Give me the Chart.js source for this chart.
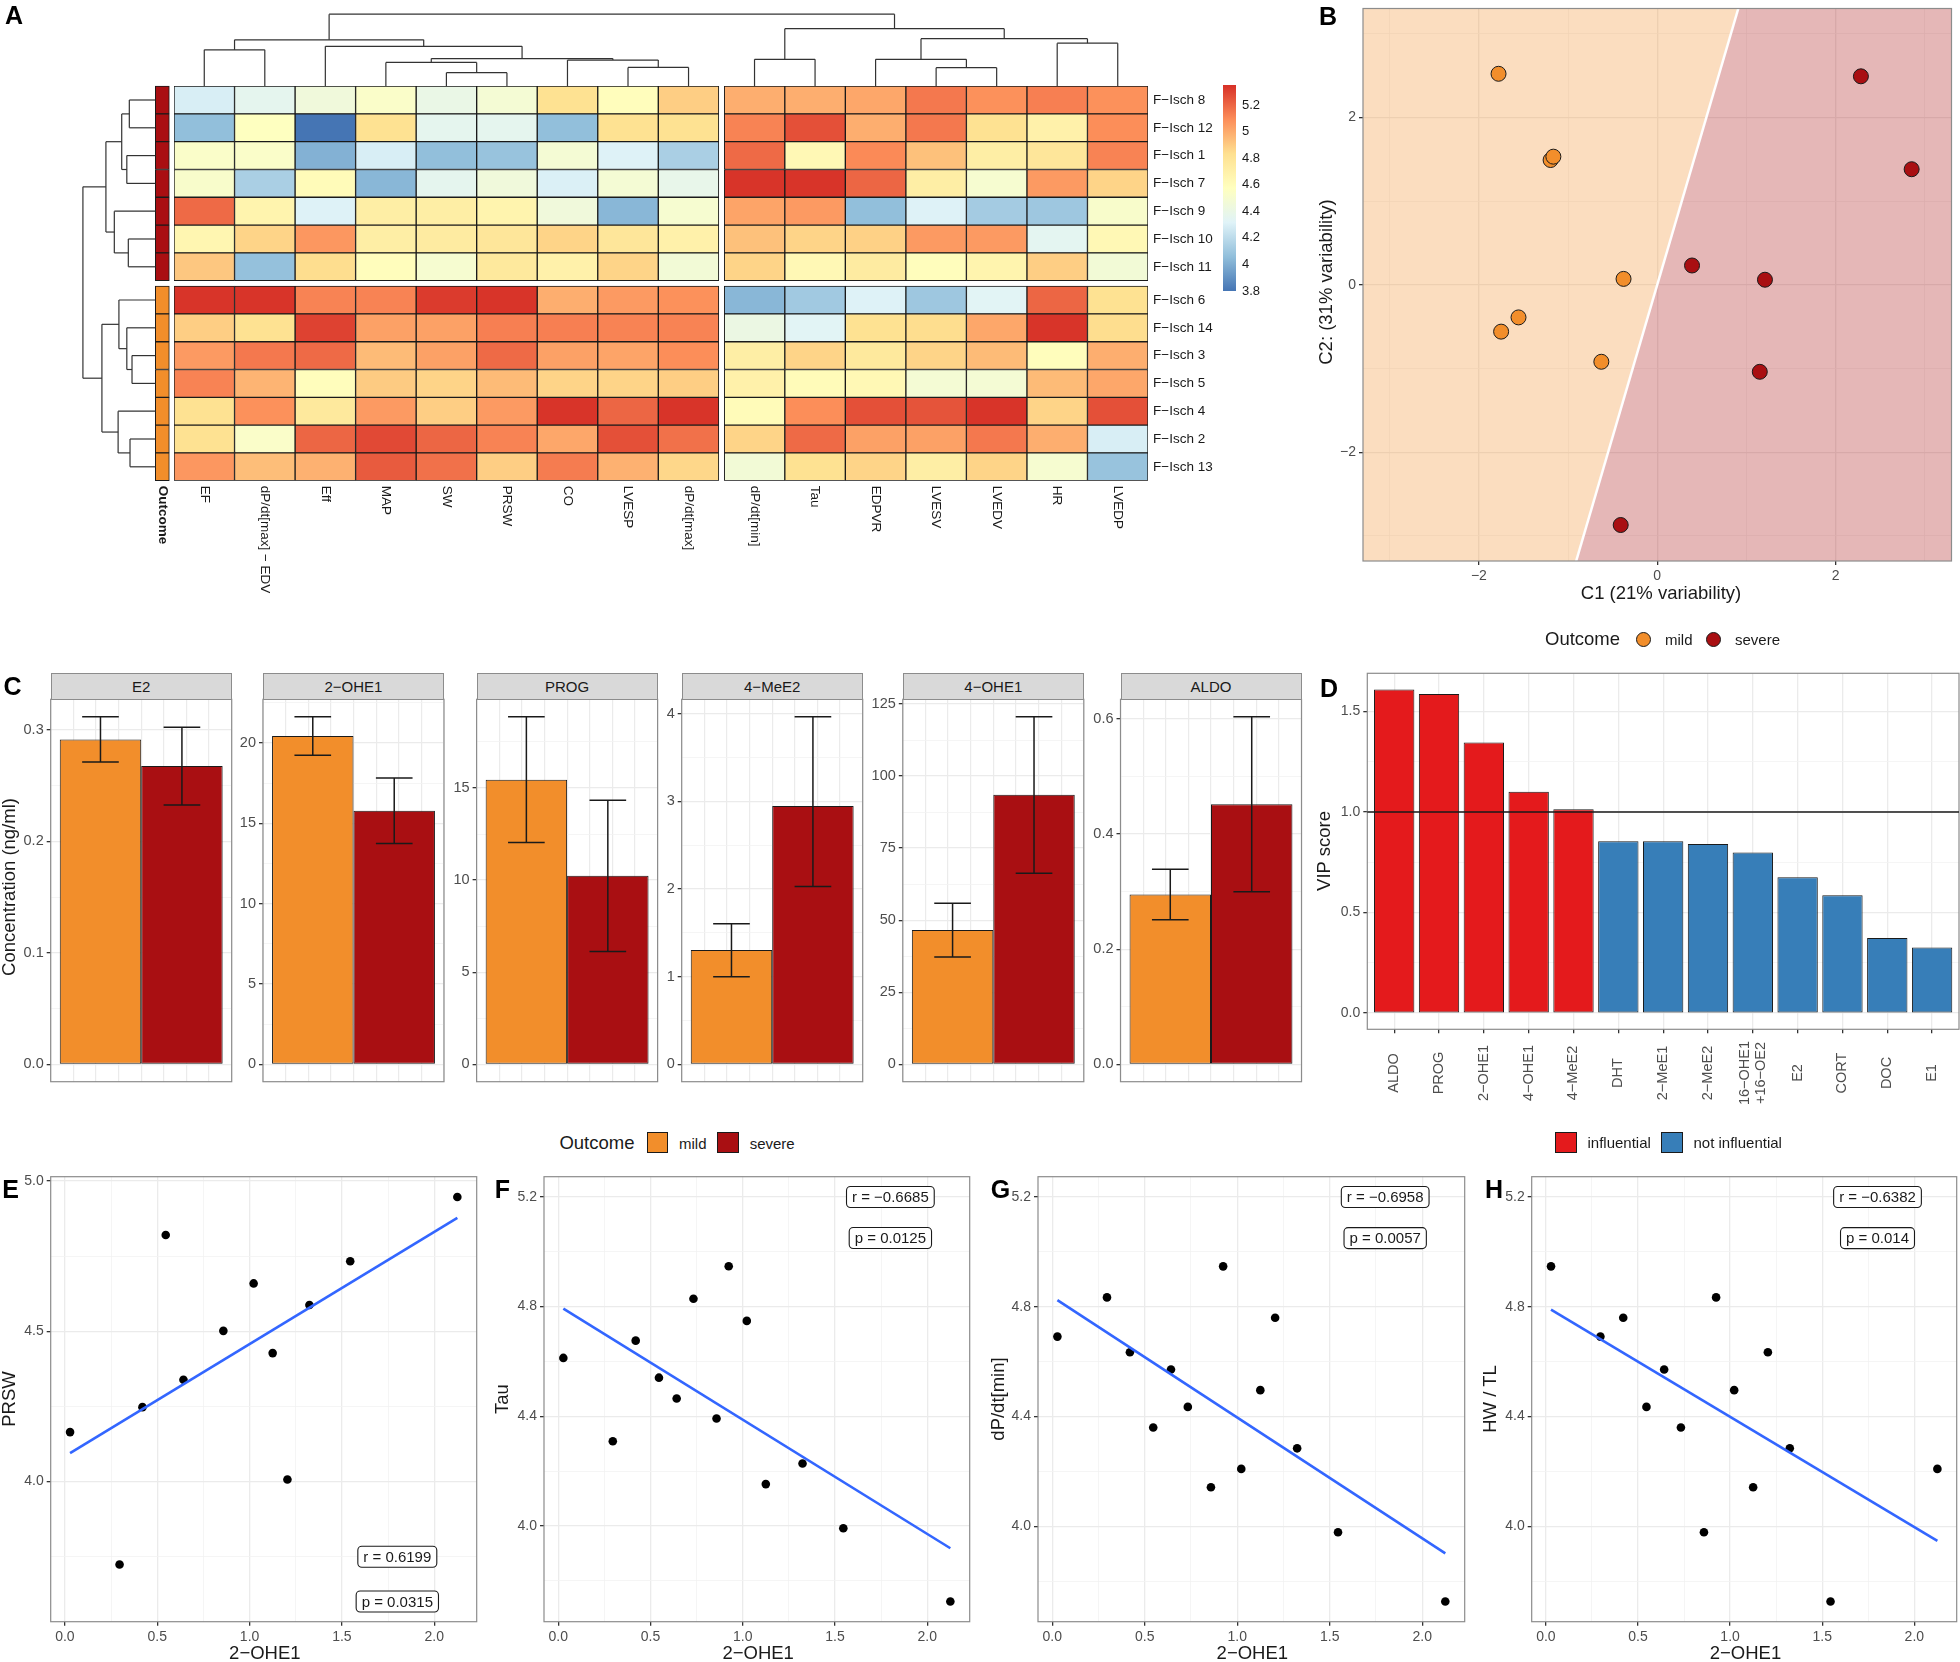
<!DOCTYPE html>
<html>
<head>
<meta charset="utf-8">
<script src="https://cdn.jsdelivr.net/npm/chart.js@4.4.1/dist/chart.umd.min.js"></script>
<style>
  html, body { margin: 0; padding: 0; background: #fff; }
  #fig { position: relative; width: 1960px; height: 1662px; overflow: hidden;
         font-family: "Liberation Sans", Arial, Helvetica, sans-serif; color: #1a1a1a; }
  .t { position: absolute; white-space: nowrap; line-height: 1; }
  .sw { position: absolute; box-sizing: border-box; border: 1px solid #1a1a1a; }
  .strip { position: absolute; box-sizing: border-box; background: #d9d9d9; border: 1px solid #8c8c8c;
           font-size: 15px; display: flex; align-items: center; justify-content: center; }
</style>
</head>
<body>
<div id="fig"></div>
<script>
// --- Data: A (clustered heatmap, rows/columns in dendrogram order) ---

const colNames = ['EF', 'dP/dt[max] − EDV', 'Eff', 'MAP', 'SW', 'PRSW', 'CO', 'LVESP', 'dP/dt[max]',
    'dP/dt[min]', 'Tau', 'EDPVR', 'LVESV', 'LVEDV', 'HR', 'LVEDP'];
const rowNames = ['F−Isch 8', 'F−Isch 12', 'F−Isch 1', 'F−Isch 7', 'F−Isch 9', 'F−Isch 10', 'F−Isch 11',
    'F−Isch 6', 'F−Isch 14', 'F−Isch 3', 'F−Isch 5', 'F−Isch 4', 'F−Isch 2', 'F−Isch 13'];
const rowOutcome = ['severe', 'severe', 'severe', 'severe', 'severe', 'severe', 'severe',
    'mild', 'mild', 'mild', 'mild', 'mild', 'mild', 'mild'];
const heatValues = [
    [4.29, 4.36, 4.45, 4.53, 4.40, 4.48, 4.82, 4.59, 4.89, 4.99, 4.99, 5.01, 5.15, 5.08, 5.13, 5.08],
    [4.06, 4.57, 3.80, 4.82, 4.36, 4.36, 4.06, 4.82, 4.82, 5.12, 5.26, 4.99, 5.15, 4.82, 4.69, 5.09],
    [4.53, 4.53, 4.01, 4.29, 4.06, 4.08, 4.48, 4.31, 4.14, 5.19, 4.63, 5.10, 4.93, 4.72, 4.78, 5.12],
    [4.52, 4.14, 4.61, 4.03, 4.36, 4.45, 4.30, 4.48, 4.38, 5.34, 5.34, 5.20, 4.72, 4.50, 5.05, 4.87],
    [5.19, 4.67, 4.31, 4.72, 4.72, 4.67, 4.45, 4.03, 4.50, 5.02, 5.05, 4.06, 4.31, 4.12, 4.10, 4.52],
    [4.65, 4.87, 5.06, 4.72, 4.74, 4.78, 4.87, 4.78, 4.69, 4.93, 4.87, 4.88, 5.05, 5.05, 4.35, 4.63],
    [4.91, 4.07, 4.84, 4.59, 4.50, 4.76, 4.69, 4.87, 4.47, 4.87, 4.63, 4.74, 4.59, 4.67, 4.89, 4.47],
    [5.34, 5.34, 5.12, 5.12, 5.32, 5.34, 4.99, 5.05, 5.08, 4.03, 4.11, 4.31, 4.10, 4.33, 5.20, 4.82],
    [4.89, 4.82, 5.30, 5.03, 5.03, 5.13, 5.13, 5.12, 5.12, 4.41, 4.33, 4.82, 4.84, 5.01, 5.34, 4.84],
    [5.05, 5.15, 5.19, 4.95, 5.03, 5.19, 5.03, 5.02, 5.09, 4.72, 4.87, 4.76, 4.87, 4.95, 4.59, 4.99],
    [5.12, 4.97, 4.59, 4.90, 4.87, 4.95, 4.87, 4.87, 4.89, 4.69, 4.61, 4.63, 4.48, 4.48, 4.95, 5.01],
    [4.82, 5.08, 4.76, 5.05, 4.89, 5.05, 5.34, 5.20, 5.34, 4.61, 5.09, 5.26, 5.25, 5.34, 4.87, 5.26],
    [4.82, 4.53, 5.20, 5.28, 5.20, 5.12, 5.01, 5.26, 5.17, 4.87, 5.19, 5.03, 5.03, 5.15, 4.99, 4.29],
    [5.06, 4.94, 4.98, 5.23, 5.17, 4.89, 5.14, 4.98, 4.86, 4.47, 4.82, 4.87, 4.72, 4.87, 4.50, 4.08]
];
// hclust-style merges: negative = leaf (1-based), positive = earlier merge; third value = height
const colMerges = [
    [-5, -6, 13.4], [-13, -14, 18.4], [-8, -9, 18.7], [-4, 1, 23.7], [-7, 3, 26.0],
    [-10, -11, 26.8], [-12, 2, 26.8], [4, 5, 27.5], [-1, -2, 36.3], [-3, 8, 39.8],
    [-15, -16, 42.9], [9, 10, 46.3], [7, 11, 47.4], [6, 13, 57.4], [12, 14, 71.9]
];
const rowMerges = [
    [-10, -11, 23.3], [-13, -14, 25.3], [-1, -2, 26.0], [-6, -7, 27.0], [-9, 1, 28.5],
    [-3, -4, 28.5], [3, 6, 33.6], [-8, 5, 36.4], [-12, 2, 37.2], [-5, 4, 41.0],
    [7, 10, 49.4], [8, 9, 53.4], [11, 12, 72.4]
];
const heatPalette = ['#4575B4', '#91BFDB', '#E0F3F8', '#FFFFBF', '#FEE090', '#FC8D59', '#D73027'];
const colorRange = [3.8, 5.35];
const colorTicks = [3.8, 4, 4.2, 4.4, 4.6, 4.8, 5, 5.2];
const colorTickLabels = ['3.8', '4', '4.2', '4.4', '4.6', '4.8', '5', '5.2'];

// --- Data: B (PLS-DA scores) ---

const mildC1 = [-1.78, -1.196, -1.165, -0.378, -1.556, -1.751, -0.627];
const mildC2 = [2.52, 1.49, 1.53, 0.07, -0.39, -0.56, -0.92];
const severeC1 = [2.284, 2.853, 0.39, 1.208, 1.15, -0.41];
const severeC2 = [2.49, 1.38, 0.23, 0.06, -1.04, -2.87];
const boundarySlope = 3.63;
const pcaLimits = [-3.3, 3.3];
const pcaTicks = [-2, 0, 2];
const pcaTickLabels = ['−2', '0', '2'];

// --- Data: C (hormone concentrations, mean and error bars) ---

const hormones = ['E2', '2−OHE1', 'PROG', '4−MeE2', '4−OHE1', 'ALDO'];
const mildMean = [0.2916, 20.43, 15.45, 1.304, 46.6, 0.2952];
const mildLo = [0.2713, 19.23, 12.04, 1.0, 37.2, 0.251];
const mildHi = [0.312, 21.63, 18.87, 1.603, 55.9, 0.339];
const severeMean = [0.2677, 15.77, 10.23, 2.947, 93.5, 0.452];
const severeLo = [0.2328, 13.74, 6.13, 2.029, 66.3, 0.2997];
const severeHi = [0.3026, 17.82, 14.33, 3.965, 120.6, 0.604];
const hormoneTicks = [[0, 0.1, 0.2, 0.3], [0, 5, 10, 15, 20], [0, 5, 10, 15], [0, 1, 2, 3, 4],
    [0, 25, 50, 75, 100, 125], [0, 0.2, 0.4, 0.6]];
const hormoneTickLabels = [['0.0', '0.1', '0.2', '0.3'], ['0', '5', '10', '15', '20'], ['0', '5', '10', '15'],
    ['0', '1', '2', '3', '4'], ['0', '25', '50', '75', '100', '125'], ['0.0', '0.2', '0.4', '0.6']];

// --- Data: D (VIP scores) ---

const vipNames = ['ALDO', 'PROG', '2−OHE1', '4−OHE1', '4−MeE2', 'DHT', '2−MeE1', '2−MeE2',
    ['16−OHE1', '+16−OE2'], 'E2', 'CORT', 'DOC', 'E1'];
const vipScores = [1.609, 1.587, 1.346, 1.100, 1.014, 0.854, 0.854, 0.841, 0.798, 0.676, 0.586, 0.373, 0.326];
const VIP_THRESHOLD = 1;
const vipTicks = [0, 0.5, 1, 1.5];
const vipTickLabels = ['0.0', '0.5', '1.0', '1.5'];

// --- Data: E-H (correlations against 2-OHE1) ---

const ohe1 = [0.028, 0.296, 0.42, 0.546, 0.642, 0.733, 0.858, 0.924, 1.022, 1.125, 1.205, 1.324, 1.545, 2.125];
const prsw = [4.164, 3.723, 4.247, 4.82, 4.338, null, 4.501, null, 4.659, 4.427, 4.006, 4.587, 4.733, 4.947];
const tau = [4.613, 4.309, 4.676, 4.541, 4.465, 4.829, 4.392, 4.947, 4.748, 4.153, null, 4.228, 3.992, 3.725];
const dpdtMin = [4.691, 4.834, 4.634, 4.360, 4.571, 4.435, 4.142, 4.947, 4.209, 4.496, 4.760, 4.284, 3.978, 3.726];
const hwTl = [4.947, 4.691, 4.760, 4.435, 4.571, 4.360, 3.978, 4.834, 4.496, 4.142, 4.634, 4.284, 3.726, 4.209];
const corrNames = ['PRSW', 'Tau', 'dP/dt[min]', 'HW / TL'];
const fitStart = [4.094, 4.793, 4.824, 4.789];
const fitEnd = [4.877, 3.919, 3.901, 3.947];
const rLabels = ['r = 0.6199', 'r = −0.6685', 'r = −0.6958', 'r = −0.6382'];
const pLabels = ['p = 0.0315', 'p = 0.0125', 'p = 0.0057', 'p = 0.014'];
const rLabelY = [3.749, 5.2, 5.2, 5.2];
const pLabelY = [3.60, 5.05, 5.05, 5.05];
const statLabelX = 1.8;
const corrTicks = [[4.0, 4.5, 5.0], [4.0, 4.4, 4.8, 5.2], [4.0, 4.4, 4.8, 5.2], [4.0, 4.4, 4.8, 5.2]];
const corrTickLabels = [['4.0', '4.5', '5.0'], ['4.0', '4.4', '4.8', '5.2'], ['4.0', '4.4', '4.8', '5.2'], ['4.0', '4.4', '4.8', '5.2']];
const oheTicks = [0, 0.5, 1, 1.5, 2];
const oheTickLabels = ['0.0', '0.5', '1.0', '1.5', '2.0'];

// --- Style ---

const FONT = '"Liberation Sans", Arial, Helvetica, sans-serif';
const INK = '#1a1a1a';
const TICK_TEXT = '#4d4d4d';
const GRID = '#ebebeb';
const GRID_MINOR = '#f3f3f3';
const FRAME = '#8c8c8c';
const MILD = '#F28E2B';
const SEVERE = '#A90F12';
const RED = '#E41A1C';
const BLUE = '#377EB8';

Chart.defaults.font.family = FONT;
Chart.defaults.font.size = 14;
Chart.defaults.color = TICK_TEXT;
Chart.defaults.animation = false;
Chart.defaults.responsive = false;
Chart.defaults.maintainAspectRatio = false;
Chart.defaults.events = [];
Chart.defaults.plugins.legend.display = false;
Chart.defaults.plugins.tooltip.enabled = false;

const fig = document.getElementById('fig');

// --- Helpers ---

function mount(area, margin) {
    const [x0, y0, x1, y1] = area;
    const [ml, mt, mr, mb] = margin;
    const left = Math.round(x0 - ml), top = Math.round(y0 - mt);
    const width = Math.round(x1 + mr) - left, height = Math.round(y1 + mb) - top;
    const canvas = document.createElement('canvas');
    canvas.width = width;
    canvas.height = height;
    canvas.style.cssText = `position:absolute;left:${left}px;top:${top}px;width:${width}px;height:${height}px`;
    fig.appendChild(canvas);
    return { canvas, l: x0 - left, t: y0 - top, r: left + width - x1, b: top + height - y1 };
}

function text(str, x, y, o = {}) {
    const d = document.createElement('div');
    d.className = 't';
    d.textContent = str;
    d.style.fontSize = (o.size || 15) + 'px';
    if (o.bold) d.style.fontWeight = 'bold';
    if (o.color) d.style.color = o.color;
    d.style.left = x + 'px';
    d.style.top = y + 'px';
    const tx = o.align === 'left' ? '0' : '-50%';
    d.style.transform = `translate(${tx}, -50%)` + (o.rotate ? ` rotate(${o.rotate}deg)` : '');
    fig.appendChild(d);
}

function swatch(x, y, w, h, color, round) {
    const d = document.createElement('div');
    d.className = 'sw';
    d.style.cssText += `left:${x}px;top:${y}px;width:${w}px;height:${h}px;background:${color};` +
        (round ? 'border-radius:50%;' : '');
    fig.appendChild(d);
}

function zeroPadding(ax) {
    ax.paddingLeft = ax.paddingRight = ax.paddingTop = ax.paddingBottom = 0;
}

// ggplot-like continuous axis: labelled major breaks, unlabelled minor breaks halfway
function valueAxis(o) {
    const step = o.majors[1] - o.majors[0];
    const list = o.majors.map((v, i) => ({ value: v, text: o.labels[i] }));
    for (let v = o.majors[0] - step / 2; v <= o.max + 1e-9; v += step) {
        if (v >= o.min - 1e-9) list.push({ value: v, text: '', minor: true });
    }
    list.sort((a, b) => a.value - b.value);
    const horizontal = o.position === 'bottom';
    return {
        type: 'linear', position: o.position, min: o.min, max: o.max, offset: false,
        afterBuildTicks: ax => { ax.ticks = list.map(t => Object.assign({}, t)); },
        afterFit: ax => {
            if (horizontal) ax.height = o.size; else ax.width = o.size;
            zeroPadding(ax);
        },
        ticks: {
            autoSkip: false, maxRotation: 0, minRotation: 0, padding: 3,
            font: { size: o.font || 14 }, color: TICK_TEXT,
            callback: (v, i, ticks) => ticks[i].text
        },
        grid: {
            offset: false, tickLength: 4, drawTicks: true,
            color: c => (c.tick && c.tick.minor) ? GRID_MINOR : GRID,
            lineWidth: c => (c.tick && c.tick.minor) ? 0.8 : 1.3,
            tickColor: c => (c.tick && c.tick.minor) ? 'rgba(0,0,0,0)' : '#333'
        },
        border: { display: false }
    };
}

function hexRgb(h) {
    return [1, 3, 5].map(i => parseInt(h.slice(i, i + 2), 16));
}

function heatColor(v) {
    const n = heatPalette.length - 1;
    const t = Math.min(1, Math.max(0, (v - colorRange[0]) / (colorRange[1] - colorRange[0]))) * n;
    const i = Math.min(Math.floor(t), n - 1), f = t - i;
    const a = hexRgb(heatPalette[i]), b = hexRgb(heatPalette[i + 1]);
    return `rgb(${a.map((c, k) => Math.round(c + (b[k] - c) * f)).join(',')})`;
}

// turn hclust merges into [pos0, h0, pos1, h1] segments
function dendrogram(merges, leafPos) {
    const nodes = [];
    const segs = [];
    const node = k => (k < 0 ? { pos: leafPos(-k - 1), h: 0 } : nodes[k - 1]);
    merges.forEach(([a, b, h]) => {
        const A = node(a), B = node(b);
        segs.push([A.pos, A.h, A.pos, h], [B.pos, B.h, B.pos, h], [A.pos, h, B.pos, h]);
        nodes.push({ pos: (A.pos + B.pos) / 2, h });
    });
    return segs;
}

// --- Plugins ---

const framePlugin = {
    id: 'frame',
    afterDatasetsDraw(chart, args, o) {
        if (!o || !o.color) return;
        const a = chart.chartArea, ctx = chart.ctx;
        ctx.save();
        ctx.strokeStyle = o.color;
        ctx.lineWidth = 1.2;
        ctx.strokeRect(a.left, a.top, a.right - a.left, a.bottom - a.top);
        ctx.restore();
    }
};

const errorBars = {
    id: 'errorBars',
    afterDatasetsDraw(chart, args, o) {
        if (!o || !o.lo) return;
        const { ctx, scales: { y } } = chart;
        ctx.save();
        ctx.strokeStyle = INK;
        ctx.lineWidth = 1.5;
        chart.data.datasets.forEach((ds, i) => {
            const bar = chart.getDatasetMeta(i).data[0];
            const y0 = y.getPixelForValue(o.lo[i]), y1 = y.getPixelForValue(o.hi[i]);
            const half = bar.width * 0.225;
            ctx.beginPath();
            ctx.moveTo(bar.x, y0); ctx.lineTo(bar.x, y1);
            ctx.moveTo(bar.x - half, y0); ctx.lineTo(bar.x + half, y0);
            ctx.moveTo(bar.x - half, y1); ctx.lineTo(bar.x + half, y1);
            ctx.stroke();
        });
        ctx.restore();
    }
};

const statBoxes = {
    id: 'statBoxes',
    afterDatasetsDraw(chart, args, o) {
        if (!o || !o.items) return;
        const { ctx, scales: { x, y } } = chart;
        ctx.save();
        ctx.font = `15px ${FONT}`;
        ctx.textAlign = 'center';
        ctx.textBaseline = 'middle';
        o.items.forEach(it => {
            const px = x.getPixelForValue(it.x), py = y.getPixelForValue(it.y);
            const w = ctx.measureText(it.text).width + 11, h = 21;
            ctx.beginPath();
            ctx.roundRect(px - w / 2, py - h / 2, w, h, 4);
            ctx.fillStyle = '#fff';
            ctx.fill();
            ctx.strokeStyle = INK;
            ctx.lineWidth = 1.1;
            ctx.stroke();
            ctx.fillStyle = INK;
            ctx.fillText(it.text, px, py + 1);
        });
        ctx.restore();
    }
};

Chart.register(framePlugin, errorBars, statBoxes);

// --- A: heatmap ---

const COL_GAP = 0.09, ROW_GAP = 0.195, SPLIT_COL = 9, SPLIT_ROW = 7, OUTCOME_X = -0.193;
const colPos = c => c + 0.5 + (c >= SPLIT_COL ? COL_GAP : 0);
const rowPos = r => r + (r >= SPLIT_ROW ? ROW_GAP : 0);

const heatmapDecor = {
    id: 'heatmapDecor',
    afterDatasetsDraw(chart) {
        const { ctx, chartArea: a, scales: { x, y } } = chart;
        const strip = chart.getDatasetMeta(chart.data.datasets.length - 1).data[0];
        const stripLeft = strip.x - strip.width / 2;
        const seg = (x0, y0, x1, y1) => { ctx.beginPath(); ctx.moveTo(x0, y0); ctx.lineTo(x1, y1); ctx.stroke(); };
        ctx.save();
        ctx.strokeStyle = '#333';
        ctx.lineWidth = 1.2;
        dendrogram(colMerges, c => x.getPixelForValue(colPos(c)))
            .forEach(([p0, h0, p1, h1]) => seg(p0, a.top - h0, p1, a.top - h1));
        dendrogram(rowMerges, r => y.getPixelForValue(rowPos(r) + 0.5))
            .forEach(([p0, h0, p1, h1]) => seg(stripLeft - h0, p0, stripLeft - h1, p1));

        ctx.fillStyle = INK;
        ctx.font = `13.5px ${FONT}`;
        ctx.textBaseline = 'middle';
        ctx.textAlign = 'left';
        rowNames.forEach((n, r) => ctx.fillText(n, a.right + 5, y.getPixelForValue(rowPos(r) + 0.5)));
        const vertical = (str, px) => {
            ctx.save();
            ctx.translate(px, a.bottom + 5);
            ctx.rotate(Math.PI / 2);
            ctx.fillText(str, 0, 0);
            ctx.restore();
        };
        colNames.forEach((n, c) => vertical(n, x.getPixelForValue(colPos(c))));
        ctx.font = `bold 13.5px ${FONT}`;
        vertical('Outcome', strip.x);
        ctx.restore();
    }
};

const heatBox = mount([174, 86.1, 1148, 480.7], [174, 86.1, 67, 119.3]);
const heatDatasets = colNames.map((name, c) => ({
    label: name,
    data: heatValues.map((row, r) => ({ x: colPos(c), y: [rowPos(r), rowPos(r) + 1] })),
    backgroundColor: heatValues.map(row => heatColor(row[c])),
    barPercentage: 1,
    categoryPercentage: 1
}));
heatDatasets.push({
    label: 'Outcome',
    xAxisID: 'x2',
    data: rowOutcome.map((o, r) => ({ x: OUTCOME_X, y: [rowPos(r), rowPos(r) + 1] })),
    backgroundColor: rowOutcome.map(o => (o === 'mild' ? MILD : SEVERE)),
    barThickness: 14,
    clip: false
});
const unitTicks = ax => { ax.ticks = Array.from({ length: 17 }, (_, i) => ({ value: i })); };
new Chart(heatBox.canvas, {
    type: 'bar',
    data: { datasets: heatDatasets },
    options: {
        layout: { padding: { left: heatBox.l, top: heatBox.t, right: heatBox.r, bottom: heatBox.b } },
        datasets: { bar: { grouped: false, borderColor: INK, borderWidth: 1, borderSkipped: false } },
        scales: {
            x: { type: 'linear', display: false, offset: false, min: 0, max: 16 + COL_GAP, afterBuildTicks: unitTicks },
            x2: { type: 'linear', display: false, offset: false, min: 0, max: 16 + COL_GAP, afterBuildTicks: unitTicks },
            y: { type: 'linear', display: false, reverse: true, min: 0, max: 14 + ROW_GAP }
        }
    },
    plugins: [heatmapDecor]
});

// colour key
const keyBox = mount([1223, 85, 1236, 291], [0, 12, 57, 12]);
new Chart(keyBox.canvas, {
    type: 'bar',
    data: {
        labels: [''],
        datasets: [{
            data: [colorRange],
            barPercentage: 1,
            categoryPercentage: 1,
            borderWidth: 0,
            backgroundColor: c => {
                const a = c.chart.chartArea;
                if (!a) return heatPalette[0];
                const g = c.chart.ctx.createLinearGradient(0, a.bottom, 0, a.top);
                heatPalette.forEach((col, i) => g.addColorStop(i / (heatPalette.length - 1), col));
                return g;
            }
        }]
    },
    options: {
        layout: { padding: { left: 0, right: 0, top: keyBox.t, bottom: keyBox.b } },
        scales: {
            x: { display: false },
            y: {
                position: 'right', min: colorRange[0], max: colorRange[1],
                afterBuildTicks: ax => { ax.ticks = colorTicks.map(v => ({ value: v })); },
                afterFit: ax => { ax.width = keyBox.r; zeroPadding(ax); },
                ticks: { padding: 6, font: { size: 13 }, color: INK,
                    callback: (v, i) => colorTickLabels[i] },
                grid: { display: false, drawTicks: false },
                border: { display: false }
            }
        }
    }
});

// --- B: score plot with class regions ---

const pcaBox = mount([1363, 2, 1959, 561], [83, 2, 1, 39]);
const boundary = pcaLimits.map(x => ({ x, y: boundarySlope * x }));
new Chart(pcaBox.canvas, {
    type: 'scatter',
    data: {
        datasets: [
            { label: 'mild', data: mildC1.map((x, i) => ({ x, y: mildC2[i] })), backgroundColor: MILD, order: 0 },
            { label: 'severe', data: severeC1.map((x, i) => ({ x, y: severeC2[i] })), backgroundColor: SEVERE, order: 0 },
            { type: 'line', label: 'mild region', data: boundary, fill: 'end', backgroundColor: 'rgba(242,142,43,0.3)',
              borderColor: '#ffffff', borderWidth: 2.5, pointRadius: 0, order: 1 },
            { type: 'line', label: 'severe region', data: boundary, fill: 'start', backgroundColor: 'rgba(169,15,18,0.3)',
              borderWidth: 0, pointRadius: 0, order: 2 }
        ]
    },
    options: {
        layout: { padding: { left: 0, top: pcaBox.t, right: pcaBox.r, bottom: 0 } },
        datasets: { scatter: { pointRadius: 7.5, borderColor: INK, borderWidth: 1 } },
        scales: {
            x: valueAxis({ position: 'bottom', min: pcaLimits[0], max: pcaLimits[1], majors: pcaTicks, labels: pcaTickLabels, size: pcaBox.b }),
            y: valueAxis({ position: 'left', min: pcaLimits[0], max: pcaLimits[1], majors: pcaTicks, labels: pcaTickLabels, size: pcaBox.l })
        },
        plugins: { frame: { color: FRAME } }
    }
});

// --- C: faceted bar charts ---

const FACET_LEFT = [50.7, 263, 476.6, 681.7, 902.8, 1120.5];
const FACET_W = 181, FACET_TOP = 699.3, FACET_BOTTOM = 1081.7, STRIP_TOP = 673.3;

hormones.forEach((name, k) => {
    const L = FACET_LEFT[k];
    const top = Math.max(mildHi[k], severeHi[k]);
    const box = mount([L, FACET_TOP, L + FACET_W, FACET_BOTTOM], [45, 12, 2, 12]);
    new Chart(box.canvas, {
        type: 'bar',
        data: {
            labels: [''],
            datasets: [
                { label: 'mild', data: [mildMean[k]], backgroundColor: MILD },
                { label: 'severe', data: [severeMean[k]], backgroundColor: SEVERE }
            ]
        },
        options: {
            layout: { padding: { left: 0, top: box.t, right: box.r, bottom: box.b } },
            datasets: { bar: { borderColor: INK, borderWidth: 1, borderSkipped: false, categoryPercentage: 0.9, barPercentage: 1 } },
            scales: {
                x: { display: false },
                xg: {
                    type: 'linear', position: 'bottom', min: -1, max: 1, offset: false,
                    afterBuildTicks: ax => { ax.ticks = Array.from({ length: 9 }, (_, i) => ({ value: -1 + i * 0.25 })); },
                    afterFit: ax => { ax.height = 0; zeroPadding(ax); },
                    ticks: { display: false },
                    grid: { color: GRID, lineWidth: 1.2, drawTicks: false, offset: false },
                    border: { display: false }
                },
                y: valueAxis({ position: 'left', min: -0.05 * top, max: 1.05 * top, majors: hormoneTicks[k],
                    labels: hormoneTickLabels[k], size: box.l, font: 14.5 })
            },
            plugins: {
                frame: { color: FRAME },
                errorBars: { lo: [mildLo[k], severeLo[k]], hi: [mildHi[k], severeHi[k]] }
            }
        }
    });
    const s = document.createElement('div');
    s.className = 'strip';
    s.style.cssText += `left:${L}px;top:${STRIP_TOP}px;width:${FACET_W}px;height:${FACET_TOP - STRIP_TOP + 1}px;`;
    s.textContent = name;
    fig.appendChild(s);
});

// --- D: VIP scores ---

const vipDecor = {
    id: 'vipDecor',
    afterDatasetsDraw(chart) {
        const { ctx, chartArea: a, scales: { x, y } } = chart;
        const yy = y.getPixelForValue(VIP_THRESHOLD);
        ctx.save();
        ctx.strokeStyle = INK;
        ctx.lineWidth = 1.6;
        ctx.beginPath();
        ctx.moveTo(a.left, yy);
        ctx.lineTo(a.right, yy);
        ctx.stroke();
        ctx.fillStyle = TICK_TEXT;
        ctx.font = `14.5px ${FONT}`;
        ctx.textAlign = 'center';
        ctx.textBaseline = 'middle';
        vipNames.forEach((n, i) => {
            const lines = [].concat(n);
            ctx.save();
            ctx.translate(x.getPixelForValue(i + 1), a.bottom + 43.7);
            ctx.rotate(-Math.PI / 2);
            lines.forEach((str, j) => ctx.fillText(str, 0, (j - (lines.length - 1) / 2) * 16));
            ctx.restore();
        });
        ctx.restore();
    }
};

const vipBox = mount([1367.3, 673.3, 1959, 1029.3], [67.3, 13.3, 1, 130.7]);
const vipMax = Math.max(...vipScores);
new Chart(vipBox.canvas, {
    type: 'bar',
    data: {
        datasets: [{
            label: 'VIP',
            data: vipScores.map((v, i) => ({ x: i + 1, y: v })),
            backgroundColor: vipScores.map(v => (v > VIP_THRESHOLD ? RED : BLUE)),
            borderColor: INK, borderWidth: 1, borderSkipped: false,
            categoryPercentage: 0.9, barPercentage: 1
        }]
    },
    options: {
        layout: { padding: { left: 0, top: vipBox.t, right: vipBox.r, bottom: 0 } },
        scales: {
            x: {
                type: 'linear', min: 0.4, max: vipScores.length + 0.6, offset: false,
                afterBuildTicks: ax => { ax.ticks = vipScores.map((v, i) => ({ value: i + 1 })); },
                afterFit: ax => { ax.height = vipBox.b; zeroPadding(ax); },
                ticks: { display: false },
                grid: { color: GRID, lineWidth: 1.3, tickColor: '#333', tickLength: 4, offset: false },
                border: { display: false }
            },
            y: valueAxis({ position: 'left', min: -0.05 * vipMax, max: 1.05 * vipMax, majors: vipTicks,
                labels: vipTickLabels, size: vipBox.l })
        },
        plugins: { frame: { color: FRAME } }
    },
    plugins: [vipDecor]
});

// --- E-H: scatter + linear fit ---

const SC_LEFT = [50.7, 544, 1038, 1531.7];
const SC_RIGHT = [479, 972.3, 1466.7, 1959.3];
const SC_TOP = 1176.7, SC_BOTTOM = 1621.7;
const SC_YTITLE_X = [9, 502, 998, 1489.5];
const corrValues = [prsw, tau, dpdtMin, hwTl];

corrNames.forEach((name, k) => {
    const pts = ohe1.map((x, i) => ({ x, y: corrValues[k][i] })).filter(p => p.y !== null);
    const ys = pts.map(p => p.y).concat([rLabelY[k], pLabelY[k]]);
    const yLo = Math.min(...ys), yHi = Math.max(...ys), yPad = 0.05 * (yHi - yLo);
    const xs = pts.map(p => p.x);
    const xLo = Math.min(...xs), xHi = Math.max(...xs), xPad = 0.05 * (xHi - xLo);
    const box = mount([SC_LEFT[k], SC_TOP, SC_RIGHT[k], SC_BOTTOM], [50, 16.7, 2, 40.3]);
    new Chart(box.canvas, {
        type: 'scatter',
        data: {
            datasets: [
                { type: 'line', label: 'fit', data: [{ x: xLo, y: fitStart[k] }, { x: xHi, y: fitEnd[k] }],
                  borderColor: '#3366FF', borderWidth: 2.6, pointRadius: 0, order: 0 },
                { label: name, data: pts, backgroundColor: '#000', pointRadius: 4.3, borderWidth: 0, order: 1 }
            ]
        },
        options: {
            layout: { padding: { left: 0, top: box.t, right: box.r, bottom: 0 } },
            scales: {
                x: valueAxis({ position: 'bottom', min: xLo - xPad, max: xHi + xPad, majors: oheTicks,
                    labels: oheTickLabels, size: box.b }),
                y: valueAxis({ position: 'left', min: yLo - yPad, max: yHi + yPad, majors: corrTicks[k],
                    labels: corrTickLabels[k], size: box.l })
            },
            plugins: {
                frame: { color: FRAME },
                statBoxes: { items: [
                    { x: statLabelX, y: rLabelY[k], text: rLabels[k] },
                    { x: statLabelX, y: pLabelY[k], text: pLabels[k] }
                ] }
            }
        }
    });
    text(name, SC_YTITLE_X[k], (SC_TOP + SC_BOTTOM) / 2, { size: 18.5, rotate: -90 });
    text('2−OHE1', (SC_LEFT[k] + SC_RIGHT[k]) / 2, 1652.7, { size: 18.5 });
});

// --- Titles, legends, panel letters ---

text('C1 (21% variability)', 1661, 593.4, { size: 18.5 });
text('C2: (31% variability)', 1326, 281.5, { size: 18.5, rotate: -90 });
text('Outcome', 1545, 639, { size: 18.5, align: 'left' });
swatch(1636, 632, 15, 15, MILD, true);
text('mild', 1665, 639, { size: 15, align: 'left' });
swatch(1706, 632, 15, 15, SEVERE, true);
text('severe', 1735, 639, { size: 15, align: 'left' });

text('Concentration (ng/ml)', 9, 887, { size: 18.5, rotate: -90 });
text('Outcome', 559.4, 1142.7, { size: 18.5, align: 'left' });
swatch(647, 1132, 21, 21, MILD);
text('mild', 679, 1142.7, { size: 15, align: 'left' });
swatch(717, 1132, 22, 21, SEVERE);
text('severe', 749.7, 1142.7, { size: 15, align: 'left' });

text('VIP score', 1324, 851.3, { size: 18.5, rotate: -90 });
swatch(1554.6, 1131.5, 22, 21, RED);
text('influential', 1587.5, 1142.3, { size: 15, align: 'left' });
swatch(1661, 1131.5, 22, 21, BLUE);
text('not influential', 1693.5, 1142.3, { size: 15, align: 'left' });

[['A', 14, 14.5], ['B', 1328, 15.5], ['C', 12.5, 685.5], ['D', 1329, 687.5],
 ['E', 10.5, 1189], ['F', 502.5, 1189], ['G', 1000.5, 1189], ['H', 1494, 1189]]
    .forEach(([s, x, y]) => text(s, x, y, { size: 25, bold: true, color: '#000' }));
</script>
</body>
</html>
